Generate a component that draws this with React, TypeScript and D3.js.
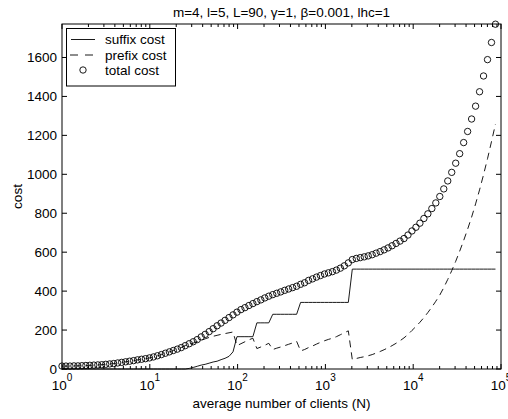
import React from "react";
import * as d3 from "d3";

const TITLE = "m=4, l=5, L=90, γ=1, β=0.001, lhc=1";
const X_LABEL = "average number of clients (N)";
const Y_LABEL = "cost";
const SERIES_LABELS = ["suffix cost", "prefix cost", "total cost"];

// sample grid: N from 10^LOG_N_FIRST to 10^LOG_N_LAST (log spaced, one per data value)
const LOG_N_FIRST = 0;
const LOG_N_LAST = 4.937;

const TOTAL_COST = [
  15, 15, 15, 16, 16, 17, 18, 19, 20, 21,
  22, 24, 26, 28, 31, 34, 37, 40, 43, 47,
  50, 53, 57, 62, 68, 74, 81, 88, 95, 102,
  110, 120, 130, 140, 151, 165, 178, 192, 207, 222,
  236, 250, 264, 278, 292, 305, 315, 326, 336, 346,
  355, 365, 374, 382, 389, 396, 404, 411, 418, 425,
  435, 443, 455, 463, 472, 480, 488, 494, 500, 508,
  518, 530, 545, 562, 568, 572, 576, 581, 587, 595,
  603, 612, 622, 633, 645, 657, 670, 688, 709, 728,
  749, 773, 797, 824, 853, 886, 925, 966, 1010, 1057,
  1106, 1163, 1220, 1284, 1350, 1424, 1505, 1589, 1677, 1771,
];

const PREFIX_COST = [
  15, 15, 15, 16, 16, 17, 18, 19, 20, 21,
  22, 24, 26, 28, 31, 34, 37, 40, 43, 47,
  50, 53, 57, 62, 68, 74, 81, 88, 95, 102,
  110, 120, 127, 133, 140, 147, 155, 162, 168, 173,
  178, 182, 186, 190, 120, 130, 140, 150, 158, 105,
  113, 122, 132, 100, 107, 113, 120, 127, 134, 142,
  93, 100, 110, 118, 128, 137, 145, 152, 158, 166,
  176, 186, 196, 48, 54, 59, 63, 68, 74, 82,
  90, 99, 109, 120, 132, 145, 160, 177, 198, 218,
  240, 264, 290, 318, 348, 380, 418, 460, 505, 553,
  605, 660, 718, 780, 848, 920, 998, 1080, 1168, 1258,
];

const SUFFIX_COST = [
  0, 0, 0, 0, 0, 0, 0, 0, 0, 0,
  0, 0, 0, 0, 0, 0, 0, 0, 0, 0,
  0, 0, 0, 0, 0, 0, 0, 0, 0, 0,
  0, 0, 3, 8, 14, 20, 24, 30, 36, 40,
  48, 55, 65, 88, 166, 166, 166, 166, 166, 237,
  237, 237, 237, 281, 281, 281, 281, 281, 281, 281,
  342, 342, 342, 342, 342, 342, 342, 342, 342, 342,
  342, 342, 342, 513, 513, 513, 513, 513, 513, 513,
  513, 513, 513, 513, 513, 513, 513, 513, 513, 513,
  513, 513, 513, 513, 513, 513, 513, 513, 513, 513,
  513, 513, 513, 513, 513, 513, 513, 513, 513, 513,
];

const Y_TICKS = [0, 200, 400, 600, 800, 1000, 1200, 1400, 1600];
const X_DECADES = [0, 1, 2, 3, 4, 5];
const Y_MAX = 1772;

const FONT = "'Liberation Sans', Arial, Helvetica, sans-serif";

export default function App() {
  const W = 508;
  const H = 419;
  const L = 62, R = 501, T = 24, B = 369;

  const x = d3.scaleLog().domain([1, 1e5]).range([L, R]);
  const y = d3.scaleLinear().domain([0, Y_MAX]).range([B, T]);

  const n = TOTAL_COST.length;
  const N = TOTAL_COST.map((_, i) =>
    Math.pow(10, LOG_N_FIRST + ((LOG_N_LAST - LOG_N_FIRST) * i) / (n - 1))
  );

  const line = d3
    .line<number>()
    .x((_, i) => x(N[i]))
    .y((d) => y(d));

  const minorTicks: number[] = [];
  for (let d = 0; d < 5; d++) {
    for (let k = 2; k <= 9; k++) minorTicks.push(k * Math.pow(10, d));
  }
  const majorTicks = X_DECADES.map((e) => Math.pow(10, e));

  const fs = 13.5;

  return (
    <svg
      width={W}
      height={H}
      viewBox={`0 0 ${W} ${H}`}
      style={{ position: "absolute", left: 0, top: 0, background: "#fff" }}
      fontFamily={FONT}
    >
      <rect x={0} y={0} width={W} height={H} fill="#fff" />
      {/* title */}
      <text x={(L + R) / 2} y={17} textAnchor="middle" fontSize={fs} fill="#000">
        {TITLE}
      </text>

      {/* data */}
      <path d={line(SUFFIX_COST) || ""} fill="none" stroke="#000" strokeWidth={0.9} />
      <path
        d={line(PREFIX_COST) || ""}
        fill="none"
        stroke="#000"
        strokeWidth={0.9}
        strokeDasharray="7,5"
      />
      {TOTAL_COST.map((v, i) => (
        <circle
          key={i}
          cx={x(N[i])}
          cy={y(v)}
          r={3.2}
          fill="none"
          stroke="#000"
          strokeWidth={0.9}
        />
      ))}

      {/* axes box */}
      <rect x={L} y={T} width={R - L} height={B - T} fill="none" stroke="#000" strokeWidth={1} />

      {/* x ticks */}
      {majorTicks.map((t) => (
        <g key={"M" + t}>
          <line x1={x(t)} x2={x(t)} y1={B} y2={B - 5} stroke="#000" />
          <line x1={x(t)} x2={x(t)} y1={T} y2={T + 5} stroke="#000" />
        </g>
      ))}
      {minorTicks.map((t) => (
        <g key={"m" + t}>
          <line x1={x(t)} x2={x(t)} y1={B} y2={B - 3} stroke="#000" />
          <line x1={x(t)} x2={x(t)} y1={T} y2={T + 3} stroke="#000" />
        </g>
      ))}
      {X_DECADES.map((e) => (
        <text key={"xl" + e} x={x(Math.pow(10, e))} y={390} textAnchor="middle" fontSize={fs} fill="#000">
          10
          <tspan dy={-9} fontSize={10}>
            {e}
          </tspan>
        </text>
      ))}

      {/* y ticks */}
      {Y_TICKS.map((t) => (
        <g key={"y" + t}>
          <line x1={L} x2={L + 5} y1={y(t)} y2={y(t)} stroke="#000" />
          <line x1={R} x2={R - 5} y1={y(t)} y2={y(t)} stroke="#000" />
          <text x={L - 5} y={y(t)} dy="0.36em" textAnchor="end" fontSize={fs} fill="#000">
            {t}
          </text>
        </g>
      ))}

      {/* axis labels */}
      <text x={(L + R) / 2} y={408} textAnchor="middle" fontSize={fs} fill="#000">
        {X_LABEL}
      </text>
      <text
        transform={`translate(22, ${(T + B) / 2}) rotate(-90)`}
        textAnchor="middle"
        fontSize={fs}
        fill="#000"
      >
        {Y_LABEL}
      </text>

      {/* legend */}
      <g>
        <rect x={66.5} y={28.5} width={109} height={57.5} fill="#fff" stroke="#000" strokeWidth={1} />
        <line x1={71} x2={95} y1={39.5} y2={39.5} stroke="#000" strokeWidth={0.9} />
        <line x1={70} x2={95} y1={55} y2={55} stroke="#000" strokeWidth={0.9} strokeDasharray="8,7" />
        <circle cx={83} cy={70} r={3.2} fill="none" stroke="#000" strokeWidth={0.9} />
        {SERIES_LABELS.map((s, i) => (
          <text key={s} x={105} y={[39.5, 55, 70][i]} dy="0.36em" fontSize={fs} fill="#000">
            {s}
          </text>
        ))}
      </g>
    </svg>
  );
}
